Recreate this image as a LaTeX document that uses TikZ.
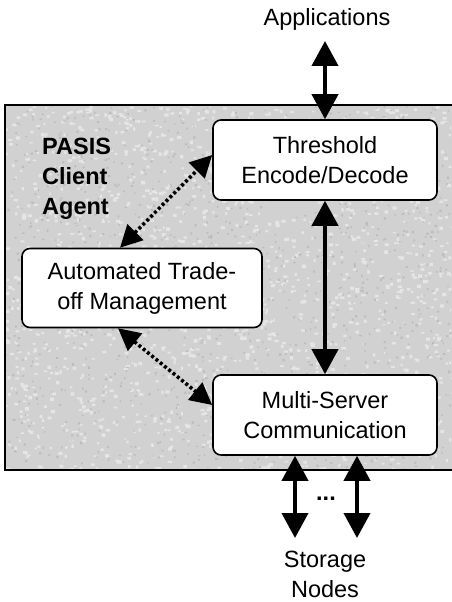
\documentclass[tikz,border=0pt]{standalone}
\usepackage{fontspec}
\setmainfont{Liberation Sans}
\usetikzlibrary{arrows.meta,calc}
\definecolor{panelgray}{gray}{0.82}
\begin{document}
\begin{tikzpicture}[x=1pt,y=-1pt,
  lbl/.style={align=center, inner sep=0pt, font=\fontsize{23.5}{30}\selectfont},
  box/.style={lbl, draw=black, line width=1.6pt, fill=white, rounded corners=8pt,
    minimum width=224pt, minimum height=80pt},
  bigarrow/.style={line width=4pt,
    {Triangle[length=25pt,width=26pt]}-{Triangle[length=25pt,width=26pt]}},
  dotarrow/.style={line width=3.5pt, dash pattern=on 3pt off 2.5pt,
    {Triangle[length=22pt,width=22pt]}-{Triangle[length=22pt,width=22pt]}},
]
\useasboundingbox (0,0) rectangle (451,602);

% textured client-agent panel
\fill[panelgray] (5,105) rectangle (460,470);
\begin{scope}
  \clip (5,105) rectangle (451,470);
  \pgfmathsetseed{7}
  \fill[white, opacity=0.45]
    \foreach \i in {1,...,1700}{
      (5+450*rnd, 105+365*rnd) rectangle ++(2+2.5*rnd, 1.5+2*rnd)
    };
  \fill[black!45, opacity=0.3]
    \foreach \i in {1,...,1200}{
      (5+450*rnd, 105+365*rnd) rectangle ++(1.2+1.2*rnd, 1.2+1.2*rnd)
    };
\end{scope}
\draw[line width=1.6pt] (460,105) -- (5,105) -- (5,470) -- (460,470);

% components
\node[box] (thr) at (325,160) {Threshold\\Encode/Decode};
\node[box, minimum width=240pt, minimum height=79pt] (ato) at (142,288) {Automated Trade-\\off Management};
\node[box] (msc) at (325,415) {Multi-Server\\Communication};

\node[lbl, font=\fontsize{23.5}{30}\bfseries\selectfont, align=left, anchor=north west]
  (pasis) at (42,138) {PASIS\\Client\\Agent};

% applications
\node[lbl] (app) at (327,19) {Applications};
\coordinate (append) at (325,41);
\draw[bigarrow] (append) -- (thr.north);

% internal data path
\draw[bigarrow] (thr.south) -- (msc.north);

% trade-off control paths
\draw[dotarrow] ($(ato.north)+(-22,0)$) -- ($(thr.west)+(0,-5)$);
\draw[dotarrow] ($(ato.south)+(-24,0)$) -- ($(msc.west)+(0,-10)$);

% storage nodes
\coordinate (s1) at (295,538);
\coordinate (s2) at (357,538);
\draw[bigarrow] ($(msc.south)+(-30,0)$) -- (s1);
\draw[bigarrow] ($(msc.south)+(32,0)$) -- (s2);
\node[lbl, font=\fontsize{23.5}{30}\bfseries\selectfont] (dots) at (326,499) {...};
\node[lbl] (stor) at (325,574) {Storage\\Nodes};
\end{tikzpicture}
\end{document}
